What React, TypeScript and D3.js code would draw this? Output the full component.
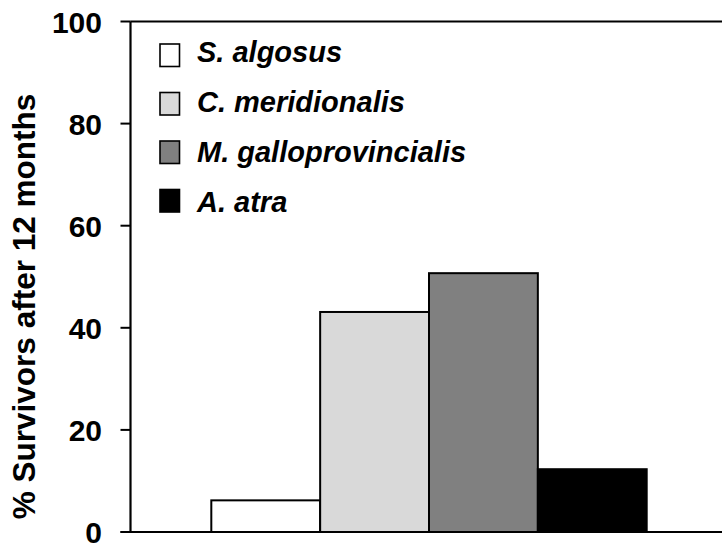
import React from "react";
import * as d3 from "d3";

const species = ["S. algosus", "C. meridionalis", "M. galloprovincialis", "A. atra"];
const survivors = [6.2, 43.1, 50.7, 12.3];
const fills = ["#ffffff", "#d9d9d9", "#808080", "#000000"];
const yTicks = [0, 20, 40, 60, 80, 100];
const yLabel = "% Survivors after 12 months";

const W = 722;
const H = 549;
const left = 130.5;
const right = 727.5;
const top = 21.5;
const bottom = 532;

export default function App() {
  const y = d3.scaleLinear().domain([0, 100]).range([bottom, top]);
  const x0 = d3.scaleBand<string>().domain(["all"]).range([left, right]).paddingInner(0).paddingOuter(0.1856);
  const x1 = d3.scaleBand<string>().domain(species).range([0, x0.bandwidth()]).padding(0);
  const gx = x0("all") ?? 0;
  const font = "'Liberation Sans', Arial, sans-serif";

  return (
    <svg width={W} height={H} style={{ position: "absolute", left: 0, top: 0, background: "#fff" }}>
      {species.map((s, i) => (
        <rect
          key={s}
          x={gx + (x1(s) ?? 0)}
          y={y(survivors[i])}
          width={x1.bandwidth()}
          height={y(0) - y(survivors[i])}
          fill={fills[i]}
          stroke="#000"
          strokeWidth={2}
        />
      ))}
      {/* axes */}
      <line x1={left} x2={left} y1={top} y2={bottom} stroke="#000" strokeWidth={2.2} />
      <line x1={left - 10} x2={W} y1={bottom} y2={bottom} stroke="#000" strokeWidth={2.2} />
      <line x1={left} x2={W} y1={top} y2={top} stroke="#000" strokeWidth={2.2} />
      {yTicks.map((t) => (
        <g key={t}>
          <line x1={left - 10} x2={left} y1={y(t)} y2={y(t)} stroke="#000" strokeWidth={2} />
          <text
            x={102}
            y={y(t)}
            dy="0.37em"
            textAnchor="end"
            fontFamily={font}
            fontWeight="bold"
            fontSize={30}
            fill="#000"
          >
            {t}
          </text>
        </g>
      ))}
      <text
        transform={`translate(35,${306.5}) rotate(-90)`}
        textAnchor="middle"
        fontFamily={font}
        fontWeight="bold"
        fontSize={31.5}
        fill="#000"
      >
        {yLabel}
      </text>
      {/* legend */}
      {species.map((s, i) => (
        <g key={s}>
          <rect x={160} y={44 + i * 48.5} width={19.5} height={22.5} fill={fills[i]} stroke="#000" strokeWidth={1.6} />
          <text
            x={197}
            y={61.5 + i * 50}
            fontFamily={font}
            fontWeight="bold"
            fontStyle="italic"
            fontSize={29}
            fill="#000"
          >
            {s}
          </text>
        </g>
      ))}
    </svg>
  );
}
